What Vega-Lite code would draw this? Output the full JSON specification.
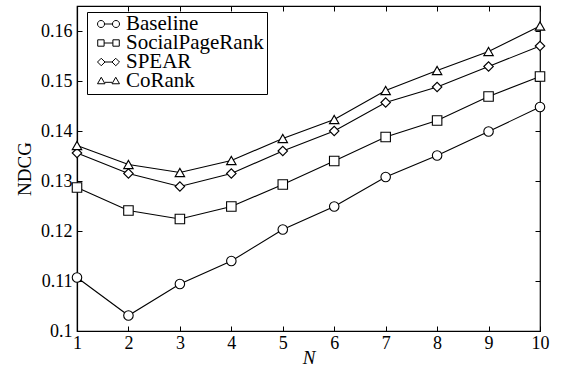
{
  "$schema": "https://vega.github.io/schema/vega-lite/v6.json",
  "width": 463,
  "height": 325,
  "autosize": "none",
  "padding": {"left": 77, "top": 6, "right": 22, "bottom": 42},
  "background": "white",
  "config": {
    "view": {"stroke": "black", "strokeWidth": 1.2},
    "font": "Liberation Serif",
    "axis": {"domainColor": "black", "tickColor": "black", "labelColor": "black", "titleColor": "black", "grid": false, "labelFont": "Liberation Serif", "titleFont": "Liberation Serif", "labelFontSize": 18, "titleFontSize": 19, "titleFontWeight": "normal", "tickSize": -5, "domainWidth": 1.2}
  },
  "data": {"values": [
    {"N": 1, "method": "Baseline", "NDCG": 0.1107},
    {"N": 2, "method": "Baseline", "NDCG": 0.1031},
    {"N": 3, "method": "Baseline", "NDCG": 0.1094},
    {"N": 4, "method": "Baseline", "NDCG": 0.114},
    {"N": 5, "method": "Baseline", "NDCG": 0.1203},
    {"N": 6, "method": "Baseline", "NDCG": 0.1249},
    {"N": 7, "method": "Baseline", "NDCG": 0.1308},
    {"N": 8, "method": "Baseline", "NDCG": 0.1351},
    {"N": 9, "method": "Baseline", "NDCG": 0.1399},
    {"N": 10, "method": "Baseline", "NDCG": 0.1448},
    {"N": 1, "method": "SocialPageRank", "NDCG": 0.1287},
    {"N": 2, "method": "SocialPageRank", "NDCG": 0.1241},
    {"N": 3, "method": "SocialPageRank", "NDCG": 0.1224},
    {"N": 4, "method": "SocialPageRank", "NDCG": 0.1249},
    {"N": 5, "method": "SocialPageRank", "NDCG": 0.1293},
    {"N": 6, "method": "SocialPageRank", "NDCG": 0.134},
    {"N": 7, "method": "SocialPageRank", "NDCG": 0.1388},
    {"N": 8, "method": "SocialPageRank", "NDCG": 0.1421},
    {"N": 9, "method": "SocialPageRank", "NDCG": 0.1469},
    {"N": 10, "method": "SocialPageRank", "NDCG": 0.1509},
    {"N": 1, "method": "SPEAR", "NDCG": 0.1356},
    {"N": 2, "method": "SPEAR", "NDCG": 0.1315},
    {"N": 3, "method": "SPEAR", "NDCG": 0.1289},
    {"N": 4, "method": "SPEAR", "NDCG": 0.1315},
    {"N": 5, "method": "SPEAR", "NDCG": 0.136},
    {"N": 6, "method": "SPEAR", "NDCG": 0.14},
    {"N": 7, "method": "SPEAR", "NDCG": 0.1457},
    {"N": 8, "method": "SPEAR", "NDCG": 0.1488},
    {"N": 9, "method": "SPEAR", "NDCG": 0.1529},
    {"N": 10, "method": "SPEAR", "NDCG": 0.157},
    {"N": 1, "method": "CoRank", "NDCG": 0.1371},
    {"N": 2, "method": "CoRank", "NDCG": 0.1333},
    {"N": 3, "method": "CoRank", "NDCG": 0.1317},
    {"N": 4, "method": "CoRank", "NDCG": 0.1341},
    {"N": 5, "method": "CoRank", "NDCG": 0.1385},
    {"N": 6, "method": "CoRank", "NDCG": 0.1423},
    {"N": 7, "method": "CoRank", "NDCG": 0.1481},
    {"N": 8, "method": "CoRank", "NDCG": 0.1521},
    {"N": 9, "method": "CoRank", "NDCG": 0.1559},
    {"N": 10, "method": "CoRank", "NDCG": 0.161}
  ]},
  "layer": [
    {
      "mark": {"type": "line", "color": "black", "strokeWidth": 1.1},
      "encoding": {
        "x": {"field": "N", "type": "quantitative", "scale": {"domain": [1, 10], "nice": false, "zero": false},
              "axis": {"orient": "bottom", "values": [1,2,3,4,5,6,7,8,9,10], "title": "N", "titleFontStyle": "italic", "titleColor": "black", "labelPadding": 8, "titlePadding": -4, "labelFlush": false}},
        "y": {"field": "NDCG", "type": "quantitative", "scale": {"domain": [0.1, 0.165], "nice": false, "zero": false},
              "axis": {"orient": "left", "values": [0.1, 0.11, 0.12, 0.13, 0.14, 0.15, 0.16], "format": ".2~f", "title": "NDCG", "titleColor": "black", "labelPadding": 10, "titlePadding": 6, "labelFlush": false}},
        "detail": {"field": "method"}
      }
    },
    {
      "mark": {"type": "point", "fill": "white", "stroke": "black", "strokeWidth": 1.1, "size": 90, "opacity": 1, "filled": true},
      "encoding": {
        "x": {"field": "N", "type": "quantitative", "scale": {"domain": [1, 10], "nice": false, "zero": false},
              "axis": {"orient": "top", "values": [1,2,3,4,5,6,7,8,9,10], "labels": false, "title": null, "domain": false}},
        "y": {"field": "NDCG", "type": "quantitative", "scale": {"domain": [0.1, 0.165], "nice": false, "zero": false},
              "axis": {"orient": "right", "values": [0.1, 0.11, 0.12, 0.13, 0.14, 0.15, 0.16], "labels": false, "title": null, "domain": false}},
        "shape": {"field": "method", "type": "nominal",
                  "scale": {"domain": ["Baseline", "SocialPageRank", "SPEAR", "CoRank"], "range": ["circle", "square", "diamond", "triangle-up"]},
                  "legend": null}
      }
    },
    {
      "transform": [{"filter": "datum.N > 100"}],
      "mark": {"type": "point", "filled": false, "color": "black", "strokeWidth": 1, "opacity": 1},
      "encoding": {
        "x": {"field": "N", "type": "quantitative", "scale": {"domain": [1, 10], "nice": false, "zero": false}, "axis": null},
        "y": {"field": "NDCG", "type": "quantitative", "scale": {"domain": [0.1, 0.165], "nice": false, "zero": false}, "axis": null},
        "shape": {"field": "method", "type": "nominal",
                  "scale": {"domain": ["Baseline", "SocialPageRank", "SPEAR", "CoRank"],
                            "range": [
                              "M-1,0 A0.32,0.32 0 1,1 -0.36,0 A0.32,0.32 0 1,1 -1,0 Z M-0.36,0 L0.36,0 M0.36,0 A0.32,0.32 0 1,1 1,0 A0.32,0.32 0 1,1 0.36,0 Z",
                              "M-0.98,-0.29 L-0.4,-0.29 L-0.4,0.29 L-0.98,0.29 Z M-0.4,0 L0.4,0 M0.4,-0.29 L0.98,-0.29 L0.98,0.29 L0.4,0.29 Z",
                              "M-1,0 L-0.66,-0.34 L-0.32,0 L-0.66,0.34 Z M-0.32,0 L0.32,0 M0.32,0 L0.66,-0.34 L1,0 L0.66,0.34 Z",
                              "M-1,0.25 L-0.66,-0.34 L-0.32,0.25 Z M-0.32,0.12 L0.32,0.12 M0.32,0.25 L0.66,-0.34 L1,0.25 Z"
                            ]},
                  "legend": {"title": null, "orient": "none", "legendX": 10, "legendY": 6, "symbolSize": 484, "symbolStrokeWidth": 1, "symbolStrokeColor": "black", "symbolFillColor": "white", "symbolOpacity": 1, "labelFont": "Liberation Serif", "labelFontSize": 21, "labelFontWeight": "normal", "labelColor": "black", "labelLimit": 300, "strokeColor": "black", "fillColor": "white", "padding": 3, "rowPadding": -5, "clipHeight": 18, "labelOffset": 6, "symbolOffset": 7,
                             "encode": {"symbols": {"update": {"stroke": {"value": "black"}, "fill": {"value": "white"}, "strokeWidth": {"value": 1}, "opacity": {"value": 1}}}}}}
      }
    }
  ],
  "resolve": {"scale": {"shape": "independent"}, "legend": {"shape": "independent"}, "axis": {"x": "independent", "y": "independent"}}
}
